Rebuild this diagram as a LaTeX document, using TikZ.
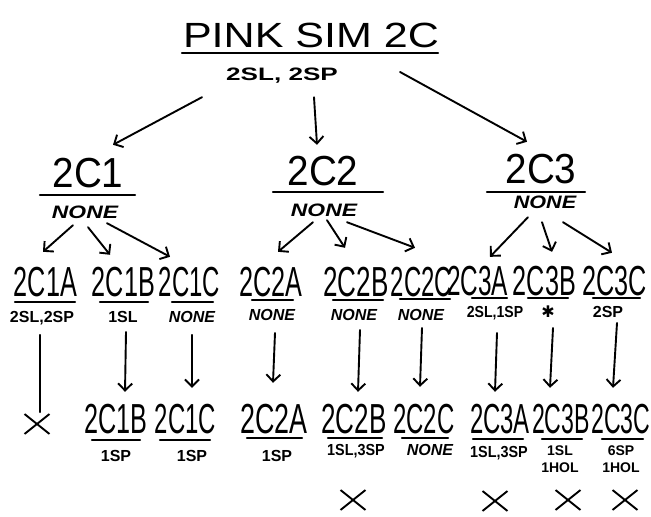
\documentclass[tikz,border=0pt]{standalone}
\usepackage{fontspec}
\setmainfont{Liberation Sans}
\newfontfamily\dejavu{DejaVu Sans}
\usetikzlibrary{arrows.meta,calc,shapes.misc}
\newcommand\hsx[2]{\scalebox{#1}[1]{#2}}
\tikzset{
  ttl/.style={inner sep=0pt, text height=25pt, text depth=0pt, font=\fontsize{35}{35}\selectfont},
  big/.style={inner sep=0pt, text height=30pt, text depth=0pt, font=\fontsize{42}{42}\selectfont},
  tsub/.style={inner sep=0pt, text height=13pt, text depth=0pt, font=\fontsize{18}{18}\selectfont\bfseries},
  nonetwo/.style={inner sep=0pt, text height=13pt, text depth=0pt, font=\fontsize{18}{18}\selectfont\bfseries\itshape},
  sub/.style={inner sep=0pt, text height=11.5pt, text depth=0pt, font=\fontsize{16}{16}\selectfont\bfseries},
  subi/.style={sub, font=\fontsize{16}{16}\selectfont\bfseries\itshape},
  subtwo/.style={inner sep=0pt, align=center, font=\fontsize{14}{17}\selectfont\bfseries},
  ul/.style={line width=2.2pt, line cap=round},
  arr/.style={line width=1.9pt, line cap=round, -{Straight Barb[length=7pt,width=14pt,line width=1.9pt]}},
  plain/.style={line width=1.9pt, line cap=round},
  xmark/.style={cross out, draw, line width=1.9pt, minimum width=23pt, minimum height=18pt, inner sep=0pt}
}
\begin{document}
\begin{tikzpicture}[x=1pt,y=-1pt]
\useasboundingbox[fill=white] (0,0) rectangle (651,517);
% title
\node[ttl] (T) at (311,34.5) {\hsx{1.23}{PINK SIM 2C}};
\draw[ul] ($(T.south)+(-129,6)$) -- ($(T.south)+(127,6)$);
\node[tsub] (TS) at (282,73.5) {\hsx{1.45}{2SL, 2SP}};
% level 2
\node[big] (C1) at (88,172.5) {\hsx{0.92}{2C1}};
\node[big] (C2) at (323,170) {\hsx{0.92}{2C2}};
\node[big] (C3) at (541,168.5) {\hsx{0.92}{2C3}};
\draw[ul] ($(C1.south)+(-48,7.5)$) -- ($(C1.south)+(47,7.5)$);
\draw[ul] ($(C2.south)+(-50,7)$) -- ($(C2.south)+(60,7)$);
\draw[ul] ($(C3.south)+(-54,8.5)$) -- ($(C3.south)+(44,8.5)$);
\node[nonetwo] (N1) at (85,212) {\hsx{1.27}{NONE}};
\node[nonetwo] (N2) at (324,210) {\hsx{1.27}{NONE}};
\node[nonetwo] (N3) at (545,201.5) {\hsx{1.2}{NONE}};
\draw[arr] ($(TS.south)+(-80,17)$) -- ($(C1.north)+(25,-12.5)$);
\draw[arr] ($(TS.south)+(32,17)$) -- ($(C2.north)+(-6,-10)$);
\draw[arr] ($(TS.east)+(62,-1.5)$) -- ($(C3.north)+(-14,-11.5)$);
% level 3
\node[big] (C1A) at (45.5,281) {\hsx{0.6}{2C1A}};
\node[big] (C1B) at (123.5,281) {\hsx{0.6}{2C1B}};
\node[big] (C1C) at (189.5,281) {\hsx{0.57}{2C1C}};
\node[big] (C2A) at (271,281) {\hsx{0.6}{2C2A}};
\node[big] (C2B) at (356,281) {\hsx{0.62}{2C2B}};
\node[big] (C2C) at (421.5,281) {\hsx{0.57}{2C2C}};
\node[big] (C3A) at (477.5,280) {\hsx{0.58}{2C3A}};
\node[big] (C3B) at (544.5,280) {\hsx{0.6}{2C3B}};
\node[big] (C3C) at (614.5,280) {\hsx{0.6}{2C3C}};
\draw[ul] ($(C1A.south)+(-30.5,6)$) -- ($(C1A.south)+(29.5,6)$);
\draw[ul] ($(C1B.south)+(-23.5,6)$) -- ($(C1B.south)+(24.5,6)$);
\draw[ul] ($(C1C.south)+(-17.5,6)$) -- ($(C1C.south)+(23.5,6)$);
\draw[ul] ($(C2A.south)+(-19,4)$) -- ($(C2A.south)+(22,4)$);
\draw[ul] ($(C2B.south)+(-23,4)$) -- ($(C2B.south)+(27,4)$);
\draw[ul] ($(C2C.south)+(-21.5,3)$) -- ($(C2C.south)+(28.5,3)$);
\draw[ul] ($(C3A.south)+(-5.5,3)$) -- ($(C3A.south)+(29.5,3)$);
\draw[ul] ($(C3B.south)+(-16.5,3)$) -- ($(C3B.south)+(23.5,3)$);
\draw[ul] ($(C3C.south)+(-21.5,3)$) -- ($(C3C.south)+(25.5,3)$);
\draw[arr] ($(N1.south)+(-12,6.5)$) -- ($(C1A.north)+(-2.5,-14)$);
\draw[arr] ($(N1.south)+(3,8.5)$) -- ($(C1B.north)+(-13.5,-11)$);
\draw[arr] ($(N1.south)+(22,4.5)$) -- ($(C1C.north)+(-19.5,-9)$);
\draw[arr] ($(N2.south)+(-11,5.5)$) -- ($(C2A.north)+(7,-14)$);
\draw[arr] ($(N2.south)+(3,3.5)$) -- ($(C2B.north)+(-11,-18)$);
\draw[arr] ($(N2.south)+(23,5.5)$) -- ($(C2C.north)+(-6.5,-18)$);
\draw[arr] ($(N3.south)+(-17,9)$) -- ($(C3A.north)+(12.5,-8)$);
\draw[arr] ($(N3.south)+(-3,14)$) -- ($(C3B.north)+(7.5,-13)$);
\draw[arr] ($(N3.south)+(18,14)$) -- ($(C3C.north)+(-2.5,-12)$);
% level 3 sublabels
\node[sub] (S1A) at (42,317) {2SL,2SP};
\node[sub] (S1B) at (123,317) {1SL};
\node[subi] (S1C) at (192,317) {NONE};
\node[subi] (S2A) at (272,315) {NONE};
\node[subi] (S2B) at (354,315) {NONE};
\node[subi] (S2C) at (421,315) {NONE};
\node[sub] (S3A) at (495,312) {\hsx{0.88}{2SL,1SP}};
\node[sub] (S3B) at (548,312) {\dejavu\fontsize{16}{16}\selectfont ✱};
\node[sub] (S3C) at (608,312) {2SP};
% level 4
\node[big] (D1B) at (116,418) {\hsx{0.6}{2C1B}};
\node[big] (D1C) at (185.5,418) {\hsx{0.57}{2C1C}};
\node[big] (D2A) at (274,418) {\hsx{0.64}{2C2A}};
\node[big] (D2B) at (354,418) {\hsx{0.62}{2C2B}};
\node[big] (D2C) at (424,418) {\hsx{0.57}{2C2C}};
\node[big] (D3A) at (500,418) {\hsx{0.57}{2C3A}};
\node[big] (D3B) at (561,418) {\hsx{0.55}{2C3B}};
\node[big] (D3C) at (621,418) {\hsx{0.55}{2C3C}};
\draw[ul] ($(D1B.south)+(-24,7)$) -- ($(D1B.south)+(24,7)$);
\draw[ul] ($(D1C.south)+(-25.5,7)$) -- ($(D1C.south)+(24.5,7)$);
\draw[ul] ($(D2A.south)+(-27,5)$) -- ($(D2A.south)+(28,5)$);
\draw[ul] ($(D2B.south)+(-26,5)$) -- ($(D2B.south)+(28,5)$);
\draw[ul] ($(D2C.south)+(-22,5)$) -- ($(D2C.south)+(24,5)$);
\draw[ul] ($(D3A.south)+(-27,6)$) -- ($(D3A.south)+(23,6)$);
\draw[ul] ($(D3B.south)+(-19,6)$) -- ($(D3B.south)+(21,6)$);
\draw[ul] ($(D3C.south)+(-19,6)$) -- ($(D3C.south)+(22,6)$);
\node[xmark] (X1) at (37,424) {};
\draw[plain] ($(S1A.south)+(-2,12)$) -- ($(X1.north)+(3,-2)$);
\draw[arr] ($(S1B.south)+(3,9)$) -- ($(D1B.north)+(9,-11)$);
\draw[arr] ($(S1C.south)+(0,12)$) -- ($(D1C.north)+(6.5,-15)$);
\draw[arr] ($(S2A.south)+(3,12)$) -- ($(D2A.north)+(-1,-20)$);
\draw[arr] ($(S2B.south)+(6,9)$) -- ($(D2B.north)+(4,-11)$);
\draw[arr] ($(S2C.south)+(1,7)$) -- ($(D2C.north)+(-4,-16)$);
\draw[arr] ($(S3A.south)+(2,15)$) -- ($(D3A.north)+(-5,-11)$);
\draw[arr] ($(S3B.south)+(5,10)$) -- ($(D3B.north)+(-11,-15)$);
\draw[arr] ($(S3C.south)+(9,5)$) -- ($(D3C.north)+(-8,-15)$);
% level 4 sublabels
\node[sub] (E1B) at (116,456) {1SP};
\node[sub] (E1C) at (192,456) {1SP};
\node[sub] (E2A) at (277,456) {1SP};
\node[sub] (E2B) at (356,450) {\hsx{0.9}{1SL,3SP}};
\node[subi] (E2C) at (430,450) {NONE};
\node[sub] (E3A) at (499,452) {\hsx{0.9}{1SL,3SP}};
\node[subtwo] (E3B) at (560,459) {1SL\\1HOL};
\node[subtwo] (E3C) at (621,459) {6SP\\1HOL};
% crosses
\node[xmark] (X2B) at (353,500) {};
\node[xmark] (X3A) at (495,501) {};
\node[xmark] (X3B) at (568,500) {};
\node[xmark] (X3C) at (625,500) {};
\end{tikzpicture}
\end{document}
